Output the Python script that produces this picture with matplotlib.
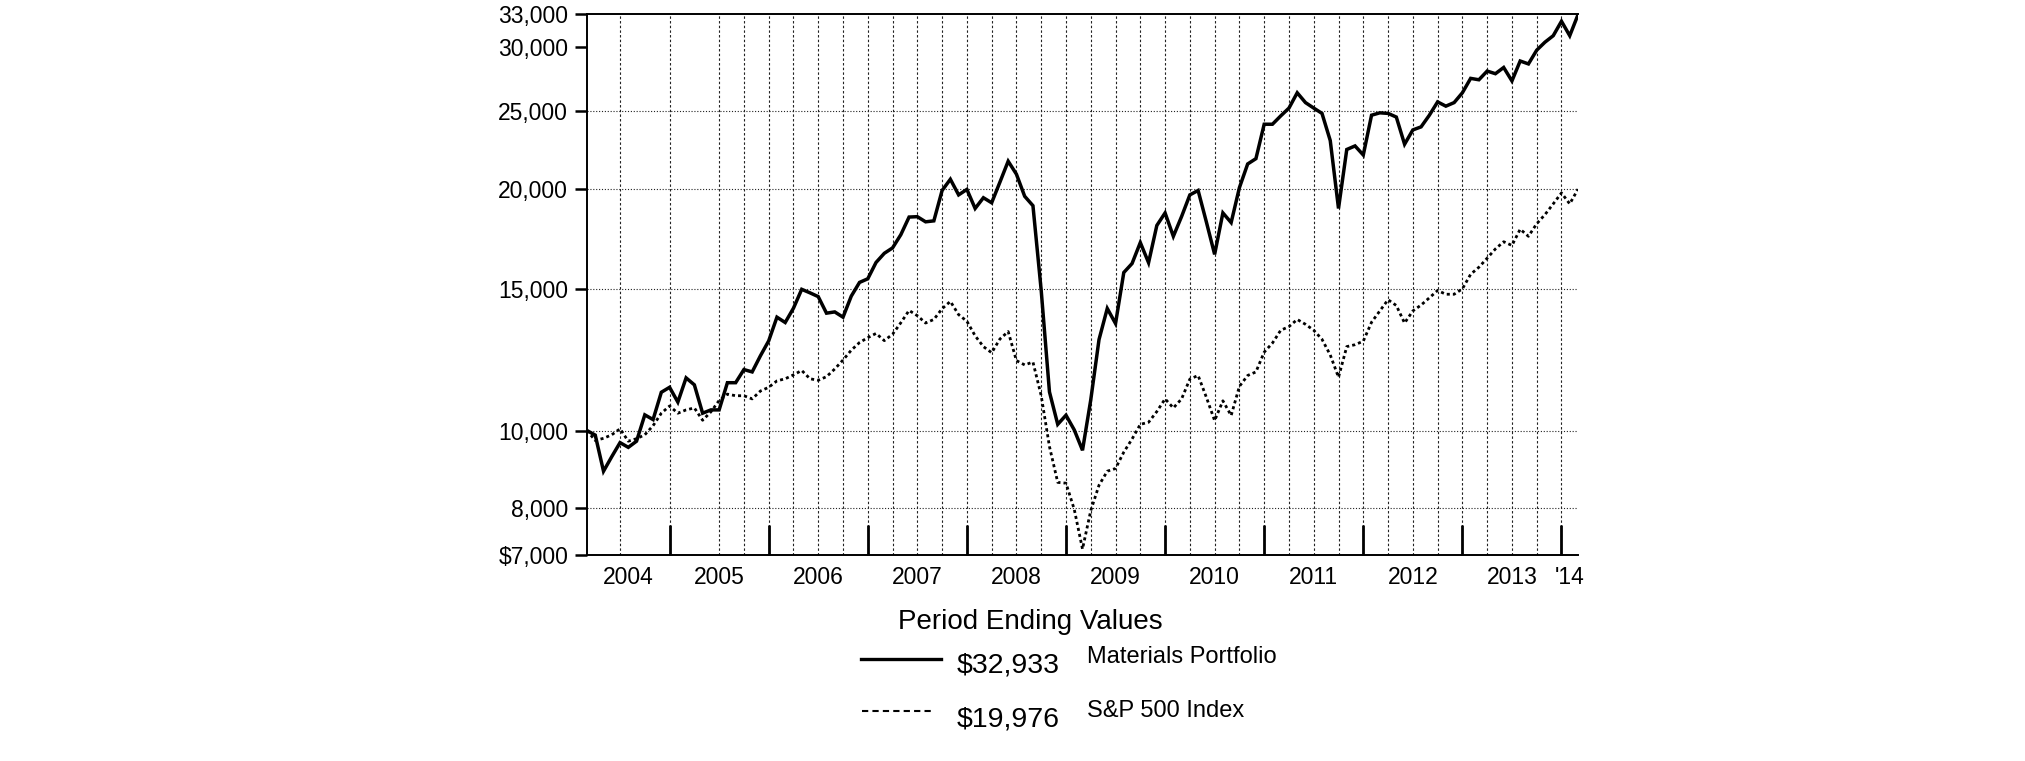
import matplotlib
matplotlib.use("Agg")
import matplotlib.pyplot as plt
from matplotlib.ticker import FixedLocator, NullLocator
from matplotlib.lines import Line2D
import numpy as np

plt.rcParams['font.family'] = ['Liberation Sans', 'DejaVu Sans']

# month-end values, Feb 2004 .. Feb 2014 (growth of $10,000)
materials = [10000, 9870, 8900, 9280, 9660, 9530, 9700, 10460, 10320, 11160, 11320,
             10850, 11630, 11400, 10510, 10610, 10610, 11470, 11470, 11910, 11830,
             12390, 12930, 13840, 13630, 14200, 14990, 14840, 14680, 14000, 14050,
             13840, 14700, 15290, 15450, 16190, 16620, 16880, 17530, 18440, 18460,
             18190, 18240, 19900, 20550, 19650, 19960, 18900, 19490, 19210, 20380,
             21640, 20850, 19570, 19050, 14940, 11170, 10180, 10450, 10020, 9450,
             10920, 12980, 14190, 13590, 15730, 16140, 17140, 16180, 18000, 18660,
             17450, 18470, 19650, 19900, 18180, 16570, 18660, 18150, 20060, 21470,
             21800, 24060, 24060, 24640, 25200, 26330, 25600, 25200, 24820, 22960,
             18900, 22380, 22610, 22030, 24690, 24860, 24820, 24560, 22720, 23670,
             23880, 24690, 25650, 25340, 25600, 26330, 27440, 27330, 28020, 27810,
             28310, 27240, 28840, 28600, 29750, 30440, 31010, 32320, 31010, 32933]
sp500 = [10000, 9720, 9780, 9880, 10050, 9700, 9770, 9880, 10140, 10510, 10730,
         10510, 10610, 10670, 10300, 10550, 10900, 11100, 11050, 11050, 10950,
         11200, 11320, 11530, 11600, 11730, 11880, 11600, 11550, 11670, 11930,
         12240, 12590, 12870, 13050, 13210, 12940, 13180, 13620, 14110, 13900,
         13610, 13750, 14180, 14480, 13940, 13680, 13120, 12720, 12500, 13000,
         13280, 12220, 12070, 12170, 11050, 9550, 8620, 8600, 7980, 7120,
         7950, 8550, 8900, 8970, 9400, 9760, 10180, 10240, 10560, 10950,
         10670, 10950, 11590, 11710, 11000, 10290, 10890, 10440, 11350, 11710,
         11830, 12520, 12850, 13330, 13470, 13750, 13560, 13330, 12990, 12420,
         11650, 12720, 12790, 12920, 13640, 14090, 14550, 14310, 13610, 14090,
         14330, 14630, 14940, 14780, 14780, 15010, 15650, 15970, 16390, 16830,
         17180, 17000, 17810, 17450, 18090, 18570, 19150, 19760, 19150, 19976]

year_labels = ['2004', '2005', '2006', '2007', '2008', '2009', '2010', '2011',
               '2012', '2013', "'14"]
y_ticks = [7000, 8000, 10000, 15000, 20000, 25000, 30000, 33000]
y_labels = ['$7,000', '8,000', '10,000', '15,000', '20,000', '25,000',
            '30,000', '33,000']
y_grid = [8000, 10000, 15000, 20000, 25000]
end_values = ['$32,933', '$19,976']
series_names = ['Materials Portfolio', 'S&P 500 Index']

W, H = 2025, 761
fig = plt.figure(figsize=(W / 100, H / 100), dpi=100)
ax = fig.add_axes([587 / W, 1 - 555 / H, (1578 - 587) / W, (555 - 14) / H])

x = np.arange(len(materials))
n = len(x) - 1

# year boundaries (Dec month ends) and label positions
year_ends = list(range(10, n, 12))
edges = [0] + year_ends + [n]
label_pos = [(edges[k] + edges[k + 1]) / 2 for k in range(len(edges) - 1)]

# quarterly vertical grid (a few missing in the original)
for q in range(1, n, 3):
    if q in (1, 7, 13):
        continue
    ax.axvline(q, color='#222222', lw=0.8, ls=(0, (2.2, 2.0)), zorder=1)
for v in y_grid:
    ax.axhline(v, color='#222222', lw=0.8, ls=(0, (1.0, 1.6)), zorder=1)

ax.plot(x, sp500, color='black', lw=2.0, ls=(0, (1.1, 1.1)), zorder=3)
ax.plot(x, materials, color='black', lw=2.5, zorder=4, solid_joinstyle='miter')

ax.set_yscale('log')
ax.set_ylim(7000, 33000)
ax.set_xlim(0, n)
ax.yaxis.set_major_locator(FixedLocator(y_ticks))
ax.yaxis.set_minor_locator(NullLocator())
ax.set_yticklabels(y_labels)
ax.tick_params(axis='y', which='major', direction='out', length=8.6, width=1.8,
               labelsize=16.5, pad=5)

ax.xaxis.set_major_locator(FixedLocator(year_ends))
ax.xaxis.set_minor_locator(FixedLocator(label_pos))
ax.set_xticklabels([], minor=False)
ax.set_xticklabels(year_labels, minor=True)
ax.tick_params(axis='x', which='major', direction='in', length=21.6, width=2.0)
ax.tick_params(axis='x', which='minor', length=0, labelsize=16.5, pad=8)

for s in ['left', 'bottom', 'top']:
    ax.spines[s].set_linewidth(1.4)
ax.spines['right'].set_visible(False)


def fx(px):
    return px / W


def fy(py):
    return 1 - py / H


fig.text(fx(1030), fy(629), 'Period Ending Values', fontsize=20, ha='center',
         va='baseline')
fig.add_artist(Line2D([fx(861), fx(941)], [fy(659), fy(659)], color='black',
                      lw=2.4, transform=fig.transFigure))
fig.add_artist(Line2D([fx(862), fx(932)], [fy(711), fy(711)], color='black',
                      lw=1.5, ls=(0, (3, 2)), transform=fig.transFigure))
fig.text(fx(957), fy(673), end_values[0], fontsize=20.5, va='baseline')
fig.text(fx(957), fy(727), end_values[1], fontsize=20.5, va='baseline')
fig.text(fx(1087), fy(663), series_names[0], fontsize=17, va='baseline')
fig.text(fx(1087), fy(717), series_names[1], fontsize=17, va='baseline')

fig.savefig('out.png', dpi=100)
